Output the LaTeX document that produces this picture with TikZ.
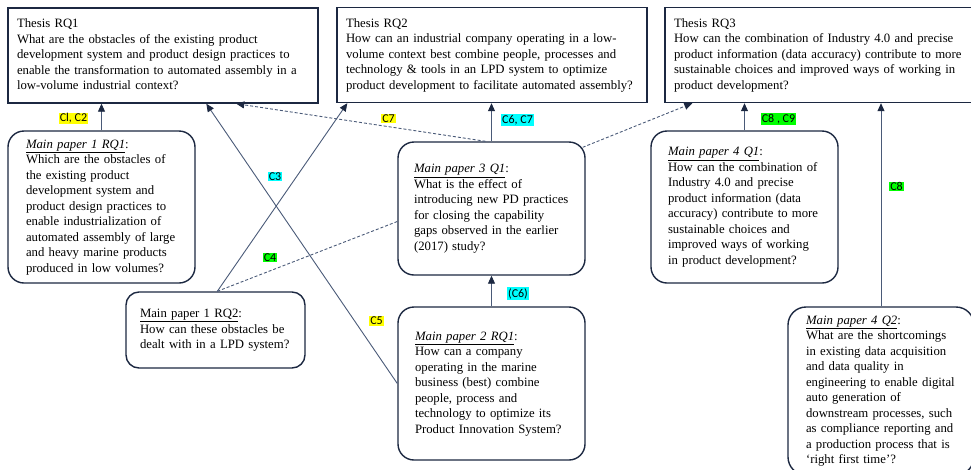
\documentclass[tikz,border=0pt]{standalone}
\usepackage{fontspec}
\setmainfont{Liberation Serif}
\newfontfamily\labfont{Carlito}
\usetikzlibrary{arrows.meta}
\definecolor{boxc}{HTML}{1C2841}
\definecolor{linec}{HTML}{4A5A78}
\definecolor{hly}{HTML}{FFFF00}
\definecolor{hlc}{HTML}{00FFFF}
\definecolor{hlg}{HTML}{00FF00}
\newcommand{\qlines}[1]{\begin{tabular}{@{}l@{}}#1\end{tabular}}
\tikzset{
  txt/.style={align=left, inner sep=0pt, font=\fontsize{12.75}{15.5}\selectfont},
  topbox/.style={txt, draw=boxc, line width=1.4pt, minimum width=310pt, minimum height=95pt, text width=292pt},
  qbox/.style={txt, draw=boxc, line width=1.4pt, rounded corners=16pt},
  lab/.style={font=\labfont\fontsize{12}{13}\selectfont, inner sep=0.8pt, text=black},
  conn/.style={draw=linec, line width=0.9pt},
  arr/.style={conn, -{Triangle[length=8pt,width=7pt,color=boxc]}},
  dsh/.style={conn, dash pattern=on 3pt off 2pt},
}
\begin{document}
\begin{tikzpicture}[x=1pt,y=-1pt]
\useasboundingbox (0,0) rectangle (971,469);
% top boxes
\node[topbox] (rq1) at (163,55.5) {\qlines{Thesis RQ1\\What are the obstacles of the existing product\\development system and product design practices to\\enable the transformation to automated assembly in a\\low-volume industrial context?}};
\node[topbox] (rq2) at (492,55) {\qlines{Thesis RQ2\\How can an industrial company operating in a low-\\volume context best combine people, processes and\\technology \& tools in an LPD system to optimize\\product development to facilitate automated assembly?}};
\node[topbox] (rq3) at (820,55) {\qlines{Thesis RQ3\\How can the combination of Industry 4.0 and precise\\product information (data accuracy) contribute to more\\sustainable choices and improved ways of working in\\product development?}};
% question boxes
\node[qbox, minimum width=187pt, minimum height=152pt, text width=151pt] (mp1a) at (101.5,207) {\qlines{\underline{\textit{Main paper 1 RQ1}}:\\Which are the obstacles of\\the existing product\\development system and\\product design practices to\\enable industrialization of\\automated assembly of large\\and heavy marine products\\produced in low volumes?}};
\node[qbox, rounded corners=13pt, minimum width=179pt, minimum height=76pt, text width=151pt] (mp1b) at (215.5,330) {\qlines{\underline{Main paper 1 RQ2}:\\How can these obstacles be\\dealt with in a LPD system?}};
\node[qbox, minimum width=187pt, minimum height=133pt, text width=155pt] (mp3) at (491.5,208.5) {\qlines{\underline{\textit{Main paper 3 Q1}}:\\What is the effect of\\introducing new PD practices\\for closing the capability\\gaps observed in the earlier\\(2017) study?}};
\node[qbox, minimum width=187pt, minimum height=153pt, text width=153pt] (mp2) at (491.5,383.5) {\qlines{\underline{\textit{Main paper 2 RQ1}}:\\How can a company\\operating in the marine\\business (best) combine\\people, process and\\technology to optimize its\\Product Innovation System?}};
\node[qbox, minimum width=187pt, minimum height=152pt, text width=153pt] (mp4a) at (744.5,207) {\qlines{\underline{\textit{Main paper 4 Q1}}:\\How can the combination of\\Industry 4.0 and precise\\product information (data\\accuracy) contribute to more\\sustainable choices and\\improved ways of working\\in product development?}};
\node[qbox, rounded corners=18pt, minimum width=186pt, minimum height=168pt, text width=150pt] (mp4b) at (881,391) {\qlines{\underline{\textit{Main paper 4 Q2}}:\\What are the shortcomings\\in existing data acquisition\\and data quality in\\engineering to enable digital\\auto generation of\\downstream processes, such\\as compliance reporting and\\a production process that is\\`right first time'?}};
% connectors
\draw[arr] (mp1a.north) -- (rq1.south -| mp1a.north);
\draw[arr] (mp3.north) -- (rq2.south -| mp3.north);
\draw[arr] (mp2.north) -- (mp3.south);
\draw[arr] (mp4a.north) -- (rq3.south -| mp4a.north);
\draw[arr] (mp4b.north) -- (rq3.south -| mp4b.north);
\draw[arr] (mp2.west) -- ([xshift=199pt]rq1.south west);
\draw[arr] ([xshift=92pt]mp1b.north west) -- ([xshift=11pt]rq2.south west);
\draw[dsh, -{Triangle[length=8pt,width=7pt,color=boxc]}] ([xshift=-6pt]mp3.north) -- ([xshift=229pt]rq1.south west);
\draw[dsh, -{Triangle[length=8pt,width=7pt,color=boxc]}] ([xshift=-3pt,yshift=-6pt]mp3.north east) -- ([xshift=28pt]rq3.south west);
\draw[dsh] ([xshift=92pt]mp1b.north west) -- ([yshift=-13pt]mp3.west);
% labels
\node[lab, fill=hly] (l12) at (73.5,118.5) {Cl, C2};
\node[lab, fill=hly] (l7) at (388.5,118.5) {C7};
\node[lab, fill=hlc] (l67) at (517.5,120) {C6, C7};
\node[lab, fill=hlg] (l89) at (778.5,119) {C8 , C9};
\node[lab, fill=hlc] (l3) at (275,176.5) {C3};
\node[lab, fill=hlg] (l4) at (270,257.5) {C4};
\node[lab, fill=hly] (l5) at (376.5,321) {C5};
\node[lab, fill=hlc] (l6) at (518,293.5) {(C6)};
\node[lab, fill=hlg] (l8) at (896.5,186.5) {C8};
\end{tikzpicture}
\end{document}
